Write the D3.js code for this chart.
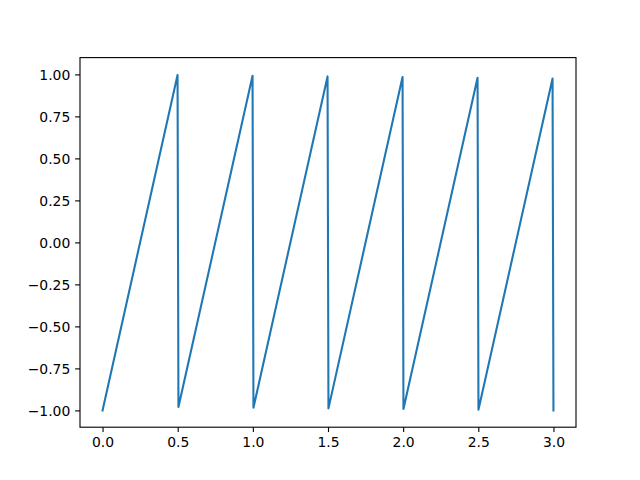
<!DOCTYPE html>
<html>
<head>
<meta charset="utf-8">
<script src="https://cdn.jsdelivr.net/npm/d3@7"></script>
<style>
body { margin: 0; background: #fff; }
svg { display: block; }
</style>
</head>
<body>
<script>
// Vertices of the sawtooth polyline
const xValues = [0.0, 0.499, 0.505, 0.998, 1.004, 1.497, 1.503, 1.996, 2.002, 2.495, 2.501, 2.994, 3.0];
const yValues = [-1.0, 0.996, -0.980, 0.992, -0.984, 0.988, -0.988, 0.984, -0.992, 0.980, -0.996, 0.976, -1.0];
const xTicks = [0.0, 0.5, 1.0, 1.5, 2.0, 2.5, 3.0];
const yTicks = [-1.0, -0.75, -0.5, -0.25, 0.0, 0.25, 0.5, 0.75, 1.0];

(function () {
  const W = 640, H = 480;
  const mLeft = 80, mRight = 576, mTop = 57.6, mBottom = 427.2;
  const fontSize = 13.9;
  const tickLen = 4.86;

  const svg = d3.select("body").append("svg").attr("width", W).attr("height", H);

  const x = d3.scaleLinear().domain([-0.15, 3.15]).range([mLeft, mRight]);
  const y = d3.scaleLinear().domain([-1.1, 1.1]).range([mBottom, mTop]);

  const data = xValues.map((v, i) => [v, yValues[i]]);

  svg.append("path")
    .datum(data)
    .attr("fill", "none")
    .attr("stroke", "#1f77b4")
    .attr("stroke-width", 2.08)
    .attr("stroke-linejoin", "round")
    .attr("stroke-linecap", "square")
    .attr("d", d3.line().x(d => x(d[0])).y(d => y(d[1])));

  const xAxis = svg.append("g")
    .attr("transform", `translate(0,${mBottom})`)
    .call(d3.axisBottom(x).tickValues(xTicks).tickFormat(d3.format(".1f"))
      .tickSizeInner(tickLen).tickSizeOuter(0).tickPadding(4.86));
  const yAxis = svg.append("g")
    .attr("transform", `translate(${mLeft},0)`)
    .call(d3.axisLeft(y).tickValues(yTicks).tickFormat(d3.format(".2f"))
      .tickSizeInner(tickLen).tickSizeOuter(0).tickPadding(4.86));

  [xAxis, yAxis].forEach(g => {
    g.select(".domain").remove();
    g.selectAll(".tick line").attr("stroke", "#000").attr("stroke-width", 1.11);
    g.selectAll(".tick text")
      .attr("fill", "#000")
      .style("font-family", "'DejaVu Sans', sans-serif")
      .style("font-size", fontSize + "px");
  });
  xAxis.selectAll(".tick text").attr("dy", "0.74em");
  yAxis.selectAll(".tick text").attr("dy", "0.36em");

  svg.append("rect")
    .attr("x", mLeft).attr("y", mTop)
    .attr("width", mRight - mLeft).attr("height", mBottom - mTop)
    .attr("fill", "none")
    .attr("stroke", "#000")
    .attr("stroke-width", 1.11);
})();
</script>
</body>
</html>
